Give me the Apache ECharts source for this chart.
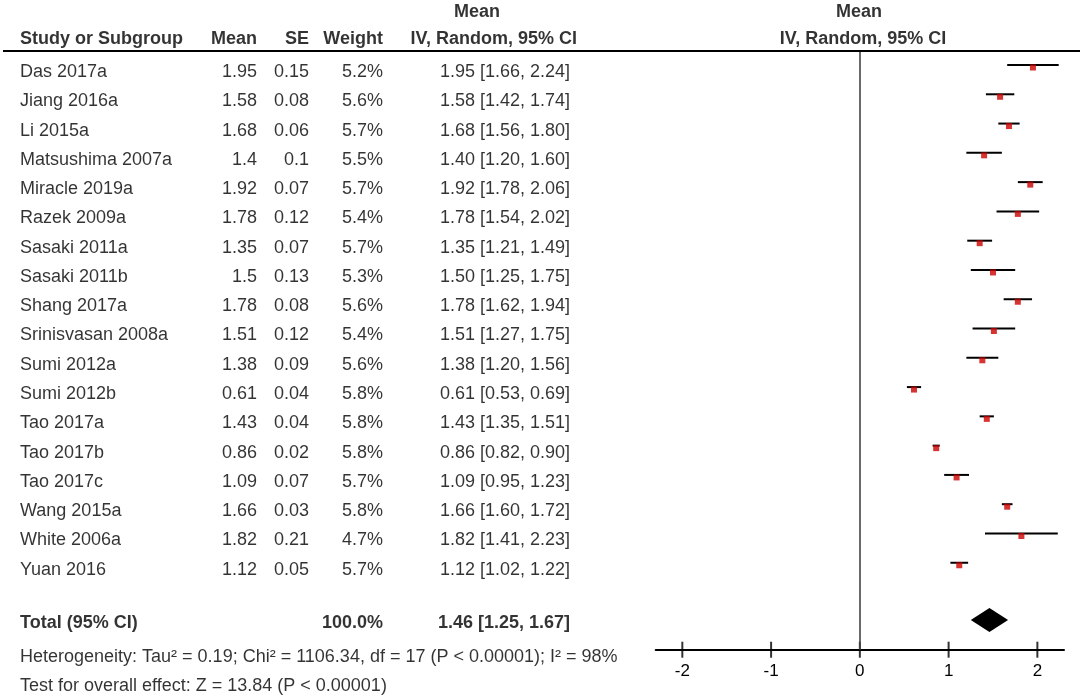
<!DOCTYPE html>
<html>
<head>
<meta charset="utf-8">
<script src="https://cdn.jsdelivr.net/npm/echarts@6/dist/echarts.min.js"></script>
<style>
html,body{margin:0;padding:0;background:#fff;}
#chart{width:1084px;height:699px;}
</style>
</head>
<body>
<div id="chart"></div>
<script>
// ---------- data ----------
const studies = ['Das 2017a','Jiang 2016a','Li 2015a','Matsushima 2007a','Miracle 2019a','Razek 2009a','Sasaki 2011a','Sasaki 2011b','Shang 2017a','Srinisvasan 2008a','Sumi 2012a','Sumi 2012b','Tao 2017a','Tao 2017b','Tao 2017c','Wang 2015a','White 2006a','Yuan 2016'];
const means   = [1.95,1.58,1.68,1.4,1.92,1.78,1.35,1.5,1.78,1.51,1.38,0.61,1.43,0.86,1.09,1.66,1.82,1.12];
const ses     = [0.15,0.08,0.06,0.1,0.07,0.12,0.07,0.13,0.08,0.12,0.09,0.04,0.04,0.02,0.07,0.03,0.21,0.05];
const weights = [5.2,5.6,5.7,5.5,5.7,5.4,5.7,5.3,5.6,5.4,5.6,5.8,5.8,5.8,5.7,5.8,4.7,5.7];
const ciLow   = [1.66,1.42,1.56,1.20,1.78,1.54,1.21,1.25,1.62,1.27,1.20,0.53,1.35,0.82,0.95,1.60,1.41,1.02];
const ciHigh  = [2.24,1.74,1.80,1.60,2.06,2.02,1.49,1.75,1.94,1.75,1.56,0.69,1.51,0.90,1.23,1.72,2.23,1.22];
const totalMean = 1.46, totalLow = 1.25, totalHigh = 1.67, totalWeight = 100.0;
const xTicks = [-2,-1,0,1,2];
const headerCols = ['Study or Subgroup','Mean','SE','Weight','IV, Random, 95% CI'];
const topHeader = 'Mean';
const totalLabel = 'Total (95% CI)';
const heterogeneityText = 'Heterogeneity: Tau\u00b2 = 0.19; Chi\u00b2 = 1106.34, df = 17 (P < 0.00001); I\u00b2 = 98%';
const overallText = 'Test for overall effect: Z = 13.84 (P < 0.00001)';

// ---------- layout ----------
const W = 1084, H = 699;
const ROW0 = 72, ROWH = 29.28;            // pixel centre of first text row, row pitch
const rowOf = px => (px - ROW0) / ROWH;
const ROW_TOPHDR = -2.05, ROW_HDR = -1.13, ROW_TOTAL = 18.82, ROW_HET = 19.98, ROW_TEST = 20.97;
const COL = {name:20, mean:257, se:309, weight:383, ci:570, ciHdr:577, topHdr:477, rMean:859, rIV:863};
const PLOT_TOP = 51, AXIS_Y = 649.7, PLOT_LEFT = 655.7, PLOT_W = 408.3;
const XMIN = -2.3, XMAX = 2.3;
const FONT = '"Liberation Sans", Arial, sans-serif';
const TXT = '#000';

function textSeries(items, position, bold) {
  return {
    type: 'scatter', xAxisIndex: 0, yAxisIndex: 0, silent: true, clip: false,
    symbol: 'rect', symbolSize: 0.01, itemStyle: {color: 'rgba(0,0,0,0)'},
    label: {
      show: true, position: position, distance: 0,
      formatter: p => p.data.t,
      fontFamily: FONT, fontSize: 18, color: TXT, fontWeight: bold ? 'bold' : 'normal'
    },
    emphasis: {disabled: true},
    data: items.map(it => ({value: [it.x, it.r], t: it.t}))
  };
}

const fmtCI = (m, l, h) => m.toFixed(2) + ' [' + l.toFixed(2) + ', ' + h.toFixed(2) + ']';

const leftBold = [
  {x: COL.name, r: ROW_HDR, t: headerCols[0]},
  {x: COL.name, r: ROW_TOTAL, t: totalLabel}
];
const leftNormal = studies.map((s, i) => ({x: COL.name, r: i, t: s}))
  .concat([{x: COL.name, r: ROW_HET, t: heterogeneityText}, {x: COL.name, r: ROW_TEST, t: overallText}]);
const rightNormal = []
  .concat(means.map((m, i) => ({x: COL.mean, r: i, t: String(m)})))
  .concat(ses.map((s, i) => ({x: COL.se, r: i, t: String(s)})))
  .concat(weights.map((w, i) => ({x: COL.weight, r: i, t: w.toFixed(1) + '%'})))
  .concat(means.map((m, i) => ({x: COL.ci, r: i, t: fmtCI(m, ciLow[i], ciHigh[i])})));
const rightBold = [
  {x: COL.mean, r: ROW_HDR, t: headerCols[1]},
  {x: COL.se, r: ROW_HDR, t: headerCols[2]},
  {x: COL.weight, r: ROW_HDR, t: headerCols[3]},
  {x: COL.ciHdr, r: ROW_HDR, t: headerCols[4]},
  {x: COL.weight, r: ROW_TOTAL, t: totalWeight.toFixed(1) + '%'},
  {x: COL.ci, r: ROW_TOTAL, t: fmtCI(totalMean, totalLow, totalHigh)}
];
const centerBold = [
  {x: COL.topHdr, r: ROW_TOPHDR, t: topHeader},
  {x: COL.rMean, r: ROW_TOPHDR, t: topHeader},
  {x: COL.rIV, r: ROW_HDR, t: headerCols[4]}
];

const chart = echarts.init(document.getElementById('chart'), null, {renderer: 'canvas'});
const yMin = rowOf(PLOT_TOP), yMax = rowOf(AXIS_Y);

chart.setOption({
  animation: false,
  backgroundColor: '#fff',
  grid: [
    {left: 0, top: 0, width: W, height: H},
    {left: PLOT_LEFT, top: PLOT_TOP, width: PLOT_W, height: AXIS_Y - PLOT_TOP}
  ],
  xAxis: [
    {gridIndex: 0, type: 'value', min: 0, max: W, show: false},
    {gridIndex: 1, type: 'value', min: XMIN, max: XMAX, position: 'bottom',
     axisLine: {show: true, onZero: false, lineStyle: {color: '#000', width: 2}},
     axisTick: {show: false},
     splitLine: {show: false},
     axisLabel: {customValues: xTicks, margin: 13, fontFamily: FONT, fontSize: 17, color: TXT}}
  ],
  yAxis: [
    {gridIndex: 0, type: 'value', inverse: true, min: rowOf(0), max: rowOf(H), show: false},
    {gridIndex: 1, type: 'value', inverse: true, min: yMin, max: yMax, show: false}
  ],
  graphic: [
    {type: 'line', shape: {x1: 3, y1: PLOT_TOP, x2: 1080, y2: PLOT_TOP}, style: {stroke: '#000', lineWidth: 2}, z: 10, silent: true}
  ],
  series: [
    textSeries(leftBold, 'right', true),
    textSeries(leftNormal, 'right', false),
    textSeries(rightNormal, 'left', false),
    textSeries(rightBold, 'left', true),
    textSeries(centerBold, 'inside', true),
    // zero line
    {
      type: 'scatter', xAxisIndex: 1, yAxisIndex: 1, data: [], silent: true,
      markLine: {silent: true, symbol: 'none', label: {show: false},
        lineStyle: {color: '#444', width: 1.6, type: 'solid'},
        data: [{xAxis: 0}]}
    },
    // tick marks crossing the axis
    {
      type: 'scatter', xAxisIndex: 1, yAxisIndex: 1, silent: true, clip: false,
      symbol: 'rect', symbolSize: [2, 16], itemStyle: {color: '#000'},
      data: xTicks.map(t => [t, yMax])
    },
    // CI lines
    {
      type: 'custom', xAxisIndex: 1, yAxisIndex: 1, silent: true, clip: false,
      encode: {x: [0, 1], y: 2},
      data: studies.map((s, i) => [ciLow[i], ciHigh[i], i]),
      renderItem: (params, api) => {
        const a = api.coord([api.value(0), api.value(2)]);
        const b = api.coord([api.value(1), api.value(2)]);
        return {type: 'line', shape: {x1: a[0], y1: a[1] - 7, x2: b[0], y2: b[1] - 7},
          style: {stroke: '#000', lineWidth: 2}};
      }
    },
    // point estimates
    {
      type: 'scatter', xAxisIndex: 1, yAxisIndex: 1, silent: true, z: 5,
      symbol: 'rect', symbolSize: 6, symbolOffset: [0, -4.5],
      itemStyle: {color: '#cc0000'},
      data: means.map((m, i) => [m, i])
    },
    // total diamond
    {
      type: 'custom', xAxisIndex: 1, yAxisIndex: 1, silent: true, clip: false,
      encode: {x: [0, 1, 2], y: 3},
      data: [[totalMean, totalLow, totalHigh, ROW_TOTAL]],
      renderItem: (params, api) => {
        const c = api.coord([api.value(0), api.value(3)]);
        const l = api.coord([api.value(1), api.value(3)]);
        const r = api.coord([api.value(2), api.value(3)]);
        const y = c[1] - 3, h = 12;
        return {type: 'polygon', shape: {points: [[l[0], y], [c[0], y - h], [r[0], y], [c[0], y + h]]},
          style: {fill: '#000'}};
      }
    }
  ]
});
</script>
</body>
</html>
